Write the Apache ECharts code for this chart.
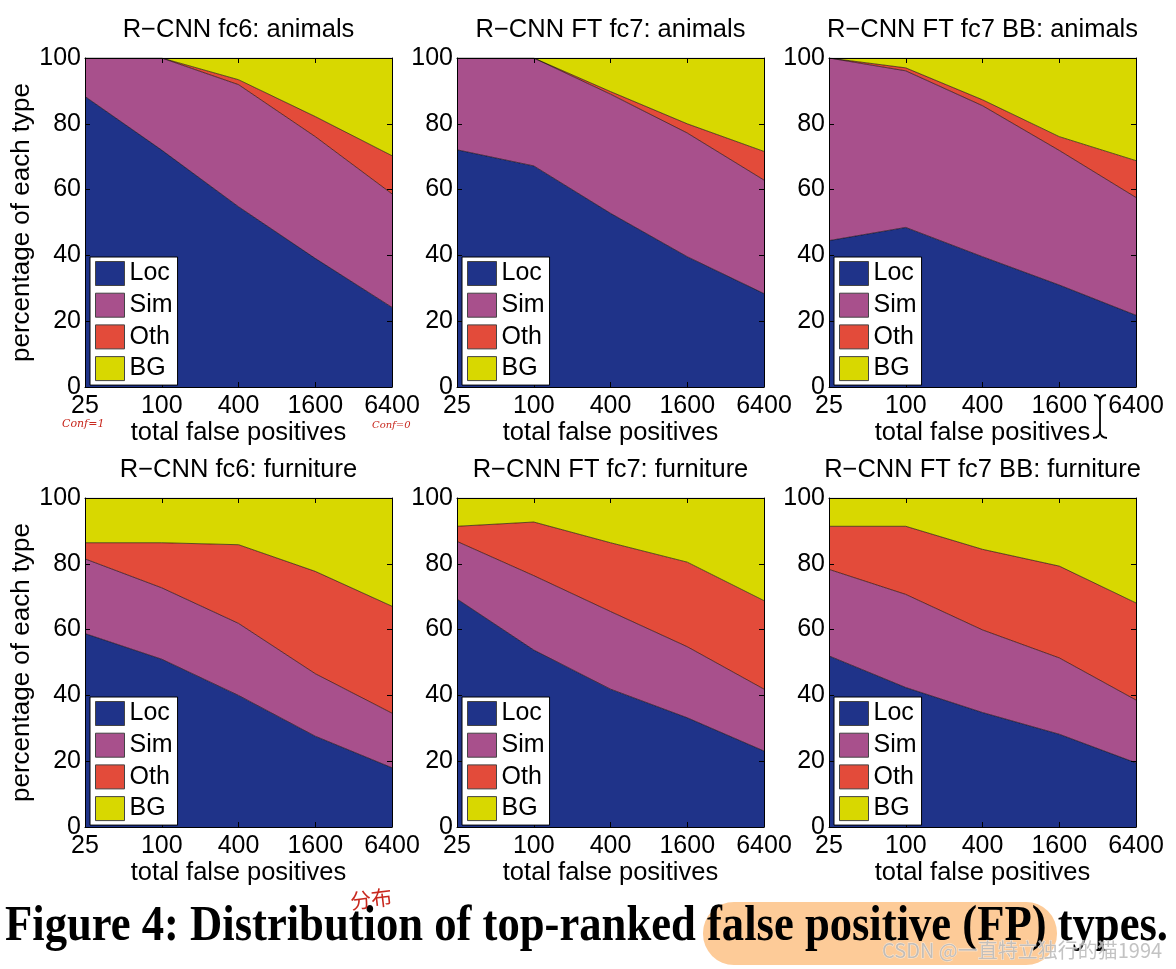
<!DOCTYPE html>
<html><head><meta charset="utf-8">
<script src="https://cdn.jsdelivr.net/npm/echarts@6/dist/echarts.min.js"></script>
<style>html,body{margin:0;padding:0;background:#fff}#c{width:1176px;height:969px}</style>
</head><body><div id="c"></div>
<script>
// ---- data ----
const xLabels = ['25', '100', '400', '1600', '6400'];
const types = ['Loc', 'Sim', 'Oth', 'BG'];
const titles = ['R\u2212CNN fc6: animals', 'R\u2212CNN FT fc7: animals', 'R\u2212CNN FT fc7 BB: animals',
                'R\u2212CNN fc6: furniture', 'R\u2212CNN FT fc7: furniture', 'R\u2212CNN FT fc7 BB: furniture'];
const yTicks = [0, 20, 40, 60, 80, 100];

const fc6AnimalsLoc = [88.3, 72.0, 54.8, 39.1, 24.2];
const fc6AnimalsSim = [11.7, 28.0, 37.1, 37.0, 34.5];
const fc6AnimalsOth = [0, 0, 1.5, 6.1, 11.6];
const fc6AnimalsBG  = [0, 0, 6.6, 17.8, 29.7];

const ftAnimalsLoc = [72.1, 67.2, 52.8, 39.6, 28.4];
const ftAnimalsSim = [27.9, 32.8, 36.2, 37.6, 34.5];
const ftAnimalsOth = [0, 0, 0.8, 2.8, 8.7];
const ftAnimalsBG  = [0, 0, 10.2, 20.0, 28.4];

const bbAnimalsLoc = [44.5, 48.5, 39.6, 31.0, 21.8];
const bbAnimalsSim = [55.5, 47.6, 45.9, 40.9, 35.8];
const bbAnimalsOth = [0, 0.9, 1.8, 4.2, 11.2];
const bbAnimalsBG  = [0, 3.0, 12.7, 23.9, 31.2];

const fc6FurnLoc = [58.8, 51.0, 40.0, 27.6, 18.0];
const fc6FurnSim = [22.7, 21.7, 21.9, 19.0, 16.6];
const fc6FurnOth = [4.9, 13.7, 23.9, 31.1, 32.5];
const fc6FurnBG  = [13.6, 13.6, 14.2, 22.3, 32.9];

const ftFurnLoc = [69.3, 53.8, 41.9, 33.2, 23.1];
const ftFurnSim = [17.5, 22.6, 23.6, 21.6, 18.8];
const ftFurnOth = [4.6, 16.3, 20.9, 25.7, 26.9];
const ftFurnBG  = [8.6, 7.3, 13.6, 19.5, 31.2];

const bbFurnLoc = [52.0, 42.4, 34.8, 28.2, 19.5];
const bbFurnSim = [26.3, 28.3, 25.1, 23.2, 19.1];
const bbFurnOth = [13.1, 20.7, 24.5, 27.9, 29.5];
const bbFurnBG  = [8.6, 8.6, 15.6, 20.7, 31.9];

const panels = [
  [fc6AnimalsLoc, fc6AnimalsSim, fc6AnimalsOth, fc6AnimalsBG],
  [ftAnimalsLoc, ftAnimalsSim, ftAnimalsOth, ftAnimalsBG],
  [bbAnimalsLoc, bbAnimalsSim, bbAnimalsOth, bbAnimalsBG],
  [fc6FurnLoc, fc6FurnSim, fc6FurnOth, fc6FurnBG],
  [ftFurnLoc, ftFurnSim, ftFurnOth, ftFurnBG],
  [bbFurnLoc, bbFurnSim, bbFurnOth, bbFurnBG]
];

const captionText = 'Figure 4: Distribution of top-ranked false positive (FP) types.';
const watermarkText = 'CSDN @\u4e00\u76f4\u7279\u7acb\u72ec\u884c\u7684\u732b1994';

// ---- style / layout ----
const colors = ['#1f3389', '#a8508c', '#e34b3a', '#d8d800'];
const FONT = '"Liberation Sans", Arial, Helvetica, sans-serif';
const lefts = [85, 457, 829], tops = [58, 498], W = 307, H = 329;

const grid = [], xAxis = [], yAxis = [], series = [], legend = [], title = [];
panels.forEach((pd, i) => {
  const r = Math.floor(i / 3), c = i % 3;
  const L = lefts[c], T = tops[r];
  grid.push({ left: L, top: T, width: W, height: H, containLabel: false });
  const tick = { show: true, inside: true, length: 5, lineStyle: { color: '#000', width: 1 } };
  const line = { show: true, onZero: false, lineStyle: { color: '#000', width: 1 } };
  xAxis.push({
    type: 'category', gridIndex: i, data: xLabels, boundaryGap: false, z: 10,
    axisLine: line, axisTick: tick,
    axisLabel: { color: '#000', fontSize: 25, fontFamily: FONT, margin: 7, interval: 0, hideOverlap: false },
    splitLine: { show: false },
    name: 'total false positives', nameLocation: 'middle', nameGap: 27,
    nameTextStyle: { color: '#000', fontSize: 25.5, fontFamily: FONT }
  });
  xAxis.push({
    type: 'category', gridIndex: i, data: xLabels, boundaryGap: false, position: 'top', z: 10,
    axisLine: line, axisTick: tick, axisLabel: { show: false }, splitLine: { show: false }
  });
  yAxis.push({
    type: 'value', gridIndex: i, min: yTicks[0], max: yTicks[yTicks.length - 1], interval: 20, z: 10,
    axisLine: line, axisTick: tick,
    axisLabel: { color: '#000', fontSize: 25, fontFamily: FONT, margin: 4 },
    splitLine: { show: false },
    name: c === 0 ? 'percentage of each type' : '', nameLocation: 'middle', nameGap: 50, nameRotate: 90,
    nameTextStyle: { color: '#000', fontSize: 26, fontFamily: FONT }
  });
  yAxis.push({
    type: 'value', gridIndex: i, min: yTicks[0], max: yTicks[yTicks.length - 1], interval: 20, position: 'right', z: 10,
    axisLine: line, axisTick: tick, axisLabel: { show: false }, splitLine: { show: false }
  });
  types.forEach((t, k) => {
    series.push({
      type: 'line', name: t, xAxisIndex: 2 * i, yAxisIndex: 2 * i, stack: 'p' + i,
      data: pd[k], symbol: 'none', showSymbol: false, silent: true, animation: false,
      lineStyle: { color: '#000', width: 0.6 },
      itemStyle: { color: colors[k] },
      areaStyle: { color: colors[k], opacity: 1 },
      emphasis: { disabled: true }, z: 2
    });
  });
  legend.push({
    left: L + 5, top: T + 199, orient: 'vertical', icon: 'rect',
    itemWidth: 29, itemHeight: 24, itemGap: 6.7, padding: [4, 5, 4, 5],
    backgroundColor: '#fff', borderColor: '#000', borderWidth: 1, borderRadius: 0,
    selectedMode: false, z: 20,
    textStyle: { color: '#000', fontSize: 25, fontFamily: FONT },
    data: types.map((t, k) => ({ name: t, itemStyle: { color: colors[k], borderColor: '#444', borderWidth: 1 } }))
  });
  title.push({
    text: titles[i], left: L + W / 2, top: r === 0 ? 17 : 457, textAlign: 'center', padding: 0,
    textStyle: { color: '#000', fontSize: 25.5, fontWeight: 'normal', fontFamily: FONT }
  });
});

// measure caption to fit reference width
const capFont = 'bold 50px "Liberation Serif", "Times New Roman", serif';
const cv = document.createElement('canvas').getContext('2d');
cv.font = capFont;
const capW = cv.measureText(captionText).width;
const capScale = 1163 / capW;

const red = '#c8281e';
const graphic = [
  { type: 'rect', shape: { x: 703, y: 902, width: 354, height: 63, r: 31 }, style: { fill: '#fdcb98' }, z: 1 },
  { type: 'text', x: 5, y: 927, scaleX: capScale, originX: 0, z: 2,
    style: { text: captionText, font: capFont, fill: '#000', textAlign: 'left', textVerticalAlign: 'middle' } },
  { type: 'text', x: 349, y: 891, rotation: 0.12, z: 3,
    style: { text: '\u5206\u5e03', font: '21px "Noto Sans CJK SC"', fill: red, textAlign: 'left', textVerticalAlign: 'top' } },
  { type: 'text', x: 62, y: 419, z: 3,
    style: { text: 'Conf=1', font: 'italic 11px "DejaVu Serif", serif', fill: red, textAlign: 'left', textVerticalAlign: 'top' } },
  { type: 'text', x: 372, y: 420, z: 3,
    style: { text: 'Conf=0', font: 'italic 10px "DejaVu Serif", serif', fill: red, textAlign: 'left', textVerticalAlign: 'top' } },
  { type: 'text', x: 882, y: 950, z: 4,
    style: { text: watermarkText, font: '20px "Noto Sans CJK SC", sans-serif', fill: 'rgba(185,185,185,0.85)',
             stroke: 'rgba(255,255,255,0.6)', lineWidth: 1, textAlign: 'left', textVerticalAlign: 'middle' } },
  // I-beam text cursor
  { type: 'line', z: 5, shape: { x1: 1100, y1: 401, x2: 1100, y2: 432 }, style: { stroke: '#000', lineWidth: 1.8 } },
  { type: 'bezierCurve', z: 5, shape: { x1: 1094, y1: 395, x2: 1100, y2: 402, cpx1: 1100, cpy1: 395.5 }, style: { stroke: '#000', lineWidth: 1.8, fill: null } },
  { type: 'bezierCurve', z: 5, shape: { x1: 1106, y1: 395, x2: 1100, y2: 402, cpx1: 1100, cpy1: 395.5 }, style: { stroke: '#000', lineWidth: 1.8, fill: null } },
  { type: 'bezierCurve', z: 5, shape: { x1: 1100, y1: 431, x2: 1093, y2: 438, cpx1: 1100, cpy1: 437.5 }, style: { stroke: '#000', lineWidth: 1.8, fill: null } },
  { type: 'bezierCurve', z: 5, shape: { x1: 1100, y1: 431, x2: 1107, y2: 438, cpx1: 1100, cpy1: 437.5 }, style: { stroke: '#000', lineWidth: 1.8, fill: null } }
];

const chart = echarts.init(document.getElementById('c'), null, { renderer: 'canvas' });
chart.setOption({
  animation: false, backgroundColor: '#fff',
  title, grid, xAxis, yAxis, series, legend, graphic
});
</script></body></html>
